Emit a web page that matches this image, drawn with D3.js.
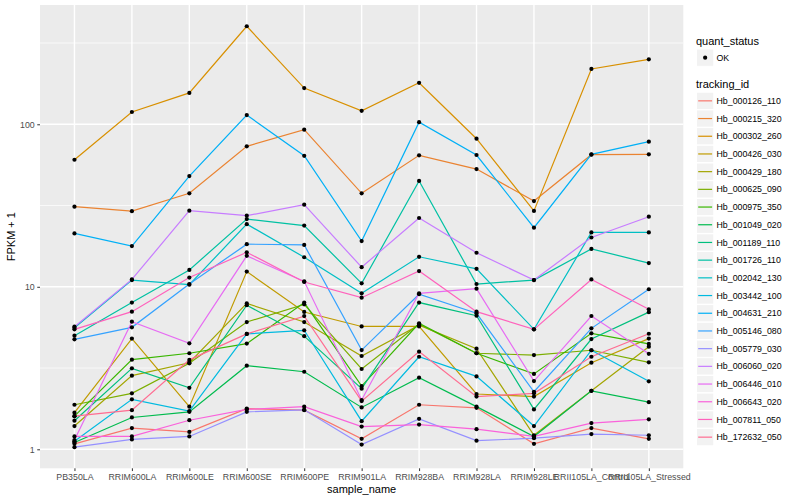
<!DOCTYPE html>
<html>
<head>
<meta charset="utf-8">
<script src="https://cdn.jsdelivr.net/npm/d3@7"></script>
<style>
  body { margin: 0; background: #fff; }
  text { font-family: "Liberation Sans", Arial, sans-serif; }
</style>
</head>
<body>
<script>
const W = 800, H = 500;

// sample columns on the x axis
const samples = ["PB350LA", "RRIM600LA", "RRIM600LE", "RRIM600SE", "RRIM600PE", "RRIM901LA",
  "RRIM928BA", "RRIM928LA", "RRIM928LE", "RRII105LA_Control", "RRII105LA_Stressed"];

// FPKM + 1 per gene, one value per sample
const hb_000126_110 = [1.08, 1.35, 1.28, 1.78, 1.74, 1.16, 1.88, 1.80, 1.08, 1.35, 1.16];
const hb_000215_320 = [31.1, 29.2, 37.6, 73.2, 92.7, 37.6, 64.4, 53.0, 33.7, 65.0, 65.3];
const hb_000302_260 = [60.5, 119, 156, 401, 167, 121, 180, 81.5, 29.3, 219, 251];
const hb_000426_030 = [1.68, 4.8, 1.83, 12.4, 7.0, 5.7, 5.7, 2.19, 2.11, 3.41, 4.8];
const hb_000429_180 = [1.39, 2.84, 3.41, 7.9, 6.07, 3.75, 5.8, 4.16, 1.22, 2.29, 4.28];
const hb_000625_090 = [1.88, 2.21, 3.38, 6.07, 7.8, 3.12, 5.9, 3.9, 3.8, 4.07, 3.43];
const hb_000975_350 = [1.6, 3.56, 3.9, 4.47, 8.0, 2.45, 5.96, 3.9, 2.91, 5.17, 4.45];
const hb_001049_020 = [1.1, 1.57, 1.7, 3.27, 3.0, 1.81, 2.76, 1.83, 1.2, 2.29, 1.95];
const hb_001189_110 = [1.5, 3.15, 2.39, 7.7, 4.97, 2.36, 8.0, 6.64, 1.76, 4.77, 6.98];
const hb_001726_110 = [5.0, 8.0, 12.7, 26.1, 23.8, 10.5, 44.8, 10.4, 11.0, 17.1, 14.0];
const hb_002042_130 = [5.6, 11.0, 10.3, 24.3, 15.2, 9.12, 15.3, 12.9, 5.47, 21.6, 21.6];
const hb_003442_100 = [1.12, 2.03, 1.72, 5.13, 5.4, 1.49, 3.71, 2.81, 1.39, 4.07, 2.62];
const hb_004631_210 = [21.3, 17.8, 48, 114, 64, 19.1, 103, 64.7, 23.1, 65.3, 78.2];
const hb_005146_080 = [4.75, 5.63, 10.4, 18.3, 18.1, 4.08, 9.0, 6.87, 2.26, 5.55, 9.66];
const hb_005779_030 = [1.03, 1.15, 1.2, 1.70, 1.75, 1.07, 1.54, 1.13, 1.17, 1.24, 1.22];
const hb_006060_020 = [5.68, 11.1, 29.4, 27.4, 32, 13.2, 26.5, 16.2, 11.0, 20.1, 27.0];
const hb_006446_010 = [1.14, 6.1, 4.49, 15.5, 10.8, 2.01, 9.12, 9.73, 2.63, 6.61, 3.87];
const hb_006643_020 = [1.2, 1.2, 1.51, 1.76, 1.83, 1.38, 1.42, 1.33, 1.2, 1.45, 1.53];
const hb_007811_050 = [5.47, 7.03, 11.4, 16.3, 10.7, 8.57, 12.5, 7.03, 5.47, 11.1, 7.27];
const hb_172632_050 = [1.6, 1.74, 3.55, 5.13, 6.6, 1.98, 3.99, 2.11, 2.21, 3.71, 5.14];

const trackingIds = ["Hb_000126_110", "Hb_000215_320", "Hb_000302_260", "Hb_000426_030", "Hb_000429_180",
  "Hb_000625_090", "Hb_000975_350", "Hb_001049_020", "Hb_001189_110", "Hb_001726_110", "Hb_002042_130",
  "Hb_003442_100", "Hb_004631_210", "Hb_005146_080", "Hb_005779_030", "Hb_006060_020", "Hb_006446_010",
  "Hb_006643_020", "Hb_007811_050", "Hb_172632_050"];
const seriesValues = [hb_000126_110, hb_000215_320, hb_000302_260, hb_000426_030, hb_000429_180,
  hb_000625_090, hb_000975_350, hb_001049_020, hb_001189_110, hb_001726_110, hb_002042_130,
  hb_003442_100, hb_004631_210, hb_005146_080, hb_005779_030, hb_006060_020, hb_006446_010,
  hb_006643_020, hb_007811_050, hb_172632_050];

const yTicks = [1, 10, 100];
const yMinor = [3.1623, 31.623, 316.23];

const palette = ["#F8766D", "#EA8331", "#D89000", "#C09B00", "#A3A500", "#7CAE00", "#39B600", "#00BB4E",
  "#00BF7D", "#00C1A3", "#00BFC4", "#00BAE0", "#00B0F6", "#35A2FF", "#9590FF", "#C77CFF", "#E76BF3",
  "#FA62DB", "#FF62BC", "#FF6C91"];

const series = trackingIds.map((id, i) => ({ id: id, values: seriesValues[i] }));

//// Canvas ////
const svg = d3.select("body").append("svg").attr("width", W).attr("height", H);
svg.append("rect").attr("width", W).attr("height", H).attr("fill", "#fff");

const panel = { left: 40, right: 683.3, top: 5, bottom: 468.3 };

const x = d3.scalePoint().domain(samples).range([panel.left, panel.right]).padding(0.6);
const y = d3.scaleLog().domain([0.764, 542]).range([panel.bottom, panel.top]);
const color = d3.scaleOrdinal().domain(trackingIds).range(palette);

svg.append("rect")
  .attr("x", panel.left).attr("y", panel.top)
  .attr("width", panel.right - panel.left).attr("height", panel.bottom - panel.top)
  .attr("fill", "#EBEBEB");

// grid
svg.append("g").selectAll("line").data(yMinor).enter().append("line")
  .attr("x1", panel.left).attr("x2", panel.right)
  .attr("y1", d => y(d)).attr("y2", d => y(d))
  .attr("stroke", "#fff").attr("stroke-width", 0.7);
svg.append("g").selectAll("line").data(yTicks).enter().append("line")
  .attr("x1", panel.left).attr("x2", panel.right)
  .attr("y1", d => y(d)).attr("y2", d => y(d))
  .attr("stroke", "#fff").attr("stroke-width", 1.4);
svg.append("g").selectAll("line").data(samples).enter().append("line")
  .attr("x1", d => x(d)).attr("x2", d => x(d))
  .attr("y1", panel.top).attr("y2", panel.bottom)
  .attr("stroke", "#fff").attr("stroke-width", 1.4);

//// Lines and points ////
const line = d3.line().x((d, i) => x(samples[i])).y(d => y(d));

svg.append("g").selectAll("path").data(series).enter().append("path")
  .attr("d", d => line(d.values))
  .attr("fill", "none")
  .attr("stroke", d => color(d.id))
  .attr("stroke-width", 1.2);

const pts = [];
series.forEach(s => s.values.forEach((v, i) => pts.push({ s: samples[i], v: v })));
svg.append("g").selectAll("circle").data(pts).enter().append("circle")
  .attr("cx", d => x(d.s)).attr("cy", d => y(d.v)).attr("r", 2.1)
  .attr("fill", "#000");

//// Axes ////
const xAxis = svg.append("g")
  .attr("transform", `translate(0,${panel.bottom})`)
  .call(d3.axisBottom(x).tickSize(2.75).tickPadding(2.5));
const yAxis = svg.append("g")
  .attr("transform", `translate(${panel.left},0)`)
  .call(d3.axisLeft(y).tickValues(yTicks).tickFormat(d3.format("d")).tickSize(2.75).tickPadding(2.5));
[xAxis, yAxis].forEach(a => {
  a.select(".domain").remove();
  a.selectAll(".tick line").attr("stroke", "#333333").attr("stroke-width", 1);
  a.selectAll(".tick text").attr("fill", "#4D4D4D").attr("font-size", "8.8px")
    .attr("font-family", "Liberation Sans, Arial, sans-serif");
});

svg.append("text")
  .attr("x", (panel.left + panel.right) / 2).attr("y", 493)
  .attr("text-anchor", "middle").attr("font-size", "11px").attr("fill", "#000")
  .text("sample_name");
svg.append("text")
  .attr("transform", `translate(15,${(panel.top + panel.bottom) / 2}) rotate(-90)`)
  .attr("text-anchor", "middle").attr("font-size", "11px").attr("fill", "#000")
  .text("FPKM + 1");

//// Legend ////
const lg = svg.append("g").attr("transform", "translate(696,0)");
const keySize = 17.3;

lg.append("text").attr("x", 0).attr("y", 44.5).attr("font-size", "11px").text("quant_status");
lg.append("rect").attr("x", 0.5).attr("y", 49).attr("width", keySize).attr("height", keySize)
  .attr("fill", "#F2F2F2").attr("stroke", "#fff");
lg.append("circle").attr("cx", 0.5 + keySize / 2).attr("cy", 49 + keySize / 2).attr("r", 2.1).attr("fill", "#000");
lg.append("text").attr("x", 20.5).attr("y", 49 + keySize / 2 + 3.1).attr("font-size", "8.8px").text("OK");

lg.append("text").attr("x", 0).attr("y", 88).attr("font-size", "11px").text("tracking_id");
const keyStep = 17.7;
const keys = lg.selectAll("g.key").data(trackingIds).enter().append("g")
  .attr("class", "key")
  .attr("transform", (d, i) => `translate(0.5,${92.2 + i * keyStep})`);
keys.append("rect").attr("width", keySize).attr("height", keySize)
  .attr("fill", "#F2F2F2").attr("stroke", "#fff");
keys.append("line")
  .attr("x1", 1.7).attr("x2", keySize - 1.7)
  .attr("y1", keySize / 2).attr("y2", keySize / 2)
  .attr("stroke", d => color(d)).attr("stroke-width", 1.2);
keys.append("text").attr("x", 20).attr("y", keySize / 2 + 3.1)
  .attr("font-size", "8.8px").attr("fill", "#000").text(d => d);
</script>
</body>
</html>
